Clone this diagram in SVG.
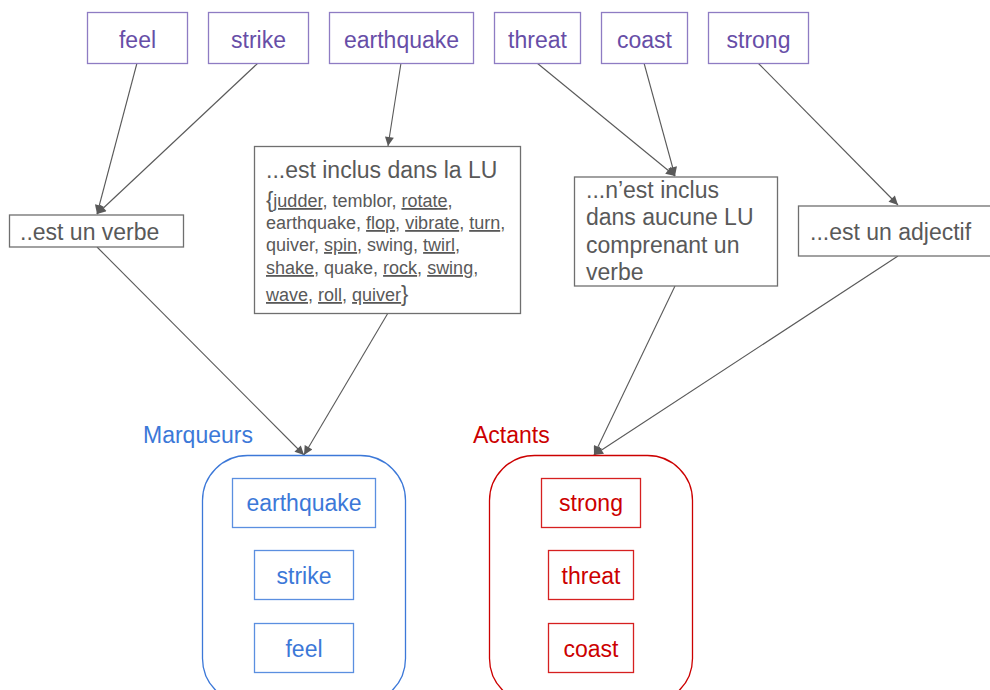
<svg xmlns="http://www.w3.org/2000/svg" width="990" height="690" viewBox="0 0 990 690">
  <defs>
    <marker id="arrow" viewBox="0 0 10 10" refX="10" refY="5" markerWidth="10" markerHeight="9" markerUnits="userSpaceOnUse" orient="auto">
      <path d="M0,0 L10,5 L0,10 z" fill="#595959"/>
    </marker>
    <style>
      text { font-family: "Liberation Sans", Arial, sans-serif; }
      .word rect { fill: #fff; stroke: #8e7cc3; stroke-width: 1.3; }
      .word text { fill: #674ea7; font-size: 23px; text-anchor: middle; }
      .crit rect { fill: #fff; stroke: #6f6f6f; stroke-width: 1.3; }
      .crit text { fill: #595959; font-size: 23px; }
      .crit .list { font-size: 18px; }
      .crit .brace { font-size: 22px; }
      .u { text-decoration: underline; }
      .blue rect { fill: #fff; stroke: #5b8fe0; stroke-width: 1.3; }
      .blue text { fill: #3c78d8; font-size: 23px; text-anchor: middle; }
      .red rect { fill: #fff; stroke: #d62020; stroke-width: 1.3; }
      .red text { fill: #cc0000; font-size: 23px; text-anchor: middle; }
      .frame { fill: none; stroke-width: 1.3; }
      .edges line { stroke: #595959; stroke-width: 1.1; marker-end: url(#arrow); }
    </style>
  </defs>

  <rect width="990" height="690" fill="#fff"/>

  <!-- connectors -->
  <g class="edges">
    <line x1="137" y1="63" x2="97" y2="214"/>
    <line x1="258" y1="63" x2="97" y2="214"/>
    <line x1="401" y1="63" x2="388" y2="146"/>
    <line x1="537" y1="63" x2="675" y2="176"/>
    <line x1="644" y1="63" x2="675" y2="176"/>
    <line x1="758" y1="63" x2="898" y2="205"/>
    <line x1="97" y1="247" x2="304" y2="455"/>
    <line x1="388" y1="313" x2="304" y2="455"/>
    <line x1="675" y1="286" x2="594" y2="455"/>
    <line x1="898" y1="256" x2="594" y2="455"/>
  </g>

  <!-- source words -->
  <g id="w-feel" class="word"><rect x="87.5" y="12.5" width="100" height="51"/><text x="137.5" y="48">feel</text></g>
  <g id="w-strike" class="word"><rect x="208.5" y="12.5" width="100" height="51"/><text x="258.5" y="48">strike</text></g>
  <g id="w-earthquake" class="word"><rect x="329.5" y="12.5" width="144" height="51"/><text x="401.5" y="48">earthquake</text></g>
  <g id="w-threat" class="word"><rect x="494.5" y="12.5" width="86" height="51"/><text x="537.5" y="48">threat</text></g>
  <g id="w-coast" class="word"><rect x="601.5" y="12.5" width="86" height="51"/><text x="644.5" y="48">coast</text></g>
  <g id="w-strong" class="word"><rect x="708.5" y="12.5" width="100" height="51"/><text x="758.5" y="48">strong</text></g>

  <!-- criteria -->
  <g id="c-verbe" class="crit">
    <rect x="9.5" y="215" width="174" height="32"/>
    <text x="20" y="240">..est un verbe</text>
  </g>
  <g id="c-lu" class="crit">
    <rect x="254.5" y="146.5" width="266" height="167"/>
    <text x="266" y="178">...est inclus dans la LU</text>
    <text class="list" x="266" y="207"><tspan class="brace">{</tspan><tspan class="u">judder</tspan>, temblor, <tspan class="u">rotate</tspan>,</text>
    <text class="list" x="266" y="229">earthquake, <tspan class="u">flop</tspan>, <tspan class="u">vibrate</tspan>, <tspan class="u">turn</tspan>,</text>
    <text class="list" x="266" y="251">quiver, <tspan class="u">spin</tspan>, swing, <tspan class="u">twirl</tspan>,</text>
    <text class="list" x="266" y="274"><tspan class="u">shake</tspan>, quake, <tspan class="u">rock</tspan>, <tspan class="u">swing</tspan>,</text>
    <text class="list" x="266" y="301"><tspan class="u">wave</tspan>, <tspan class="u">roll</tspan>, <tspan class="u">quiver</tspan><tspan class="brace">}</tspan></text>
  </g>
  <g id="c-aucune" class="crit">
    <rect x="574.5" y="177" width="203" height="109"/>
    <text x="586" y="198">...n’est inclus</text>
    <text x="586" y="225">dans aucune LU</text>
    <text x="586" y="253">comprenant un</text>
    <text x="586" y="280">verbe</text>
  </g>
  <g id="c-adjectif" class="crit">
    <rect x="798.5" y="206" width="200" height="50"/>
    <text x="810" y="240">...est un adjectif</text>
  </g>

  <!-- Marqueurs group -->
  <g id="marqueurs" class="blue">
    <text x="143" y="443" style="text-anchor:start">Marqueurs</text>
    <rect class="frame" x="202.5" y="455.5" width="203" height="248" rx="45" ry="45" style="stroke:#3c78d8"/>
    <g id="m-earthquake"><rect x="232.5" y="478.5" width="143" height="49"/><text x="304" y="511">earthquake</text></g>
    <g id="m-strike"><rect x="254.5" y="550.5" width="99" height="49"/><text x="304" y="584">strike</text></g>
    <g id="m-feel"><rect x="254.5" y="623.5" width="99" height="49"/><text x="304" y="657">feel</text></g>
  </g>

  <!-- Actants group -->
  <g id="actants" class="red">
    <text x="473" y="443" style="text-anchor:start">Actants</text>
    <rect class="frame" x="489.5" y="455.5" width="203" height="248" rx="45" ry="45" style="stroke:#cc0000"/>
    <g id="a-strong"><rect x="541.5" y="478.5" width="99" height="49"/><text x="591" y="511">strong</text></g>
    <g id="a-threat"><rect x="548.5" y="550.5" width="85" height="49"/><text x="591" y="584">threat</text></g>
    <g id="a-coast"><rect x="548.5" y="623.5" width="85" height="49"/><text x="591" y="657">coast</text></g>
  </g>
</svg>
